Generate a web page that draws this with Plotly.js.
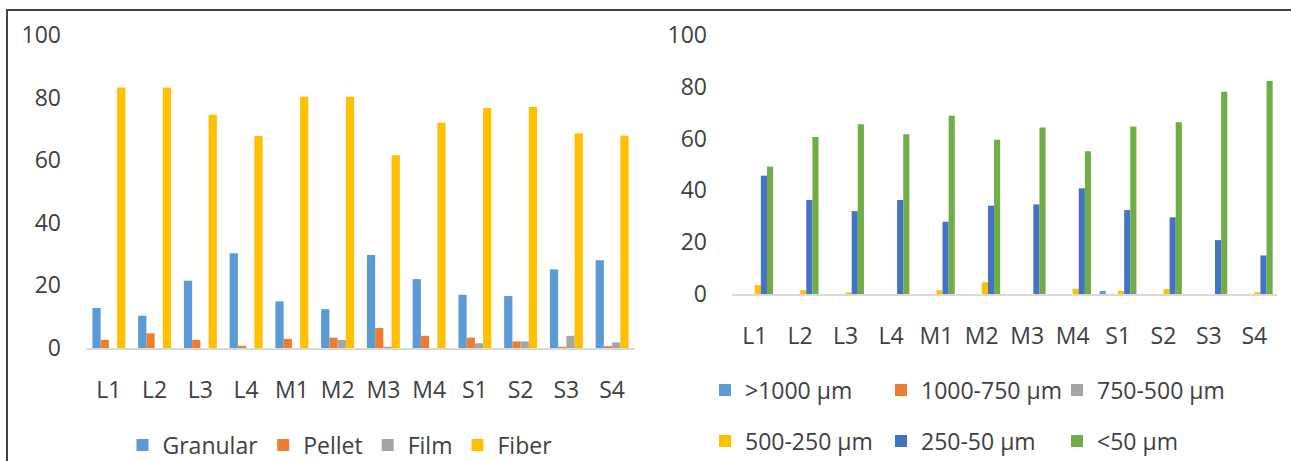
<!DOCTYPE html>
<html>
<head>
<meta charset="utf-8">
<script src="https://cdn.plot.ly/plotly-3.0.1.min.js"></script>
<style>
  html, body { margin: 0; padding: 0; background: #ffffff; }
  #wrap { position: relative; width: 1291px; height: 461px; overflow: hidden; }
  #chart { position: absolute; left: 0; top: 0; width: 1291px; height: 481px; }
  #frame { position: absolute; left: 6px; top: 9px; width: 1300px; height: 470px;
           border-left: 2px solid #444444; border-top: 2px solid #444444; pointer-events: none; }
</style>
</head>
<body>
<div id="wrap">
  <div id="chart"></div>
  <div id="frame"></div>
</div>
<script>
// Sampling sites
const sites = ['L1', 'L2', 'L3', 'L4', 'M1', 'M2', 'M3', 'M4', 'S1', 'S2', 'S3', 'S4'];

// Shape composition (%)
const shapeNames = ['Granular', 'Pellet', 'Film', 'Fiber'];
const granular = [12.8, 10.3, 21.5, 30.3, 14.9, 12.4, 29.7, 22.0, 17.0, 16.6, 25.1, 28.0];
const pellet   = [2.6, 4.7, 2.6, 0.7, 2.9, 3.3, 6.4, 3.9, 3.3, 2.1, 0.4, 0.6];
const film     = [0, 0, 0, 0, 0, 2.6, 0.4, 0, 1.5, 2.1, 3.9, 1.8];
const fiber    = [83.2, 83.2, 74.5, 67.7, 80.3, 80.3, 61.6, 72.0, 76.7, 77.0, 68.6, 67.9];

// Size composition (%)
const sizeNames = ['>1000 µm', '1000-750 µm', '750-500 µm', '500-250 µm', '250-50 µm', '<50 µm'];
const size1000 = [0, 0, 0, 0, 0, 0, 0, 0, 1.2, 0, 0, 0];
const size750  = [0, 0, 0, 0, 0, 0, 0, 0, 0, 0, 0, 0];
const size500  = [0, 0, 0, 0, 0, 0, 0, 0, 0, 0, 0, 0];
const size250  = [3.4, 1.5, 0.6, 0, 1.5, 4.5, 0, 2.0, 1.2, 1.9, 0, 0.7];
const size50   = [45.7, 36.3, 32.0, 36.3, 27.9, 34.1, 34.6, 40.8, 32.4, 29.6, 20.8, 14.9];
const sizeLt50 = [49.2, 60.6, 65.5, 61.7, 68.8, 59.6, 64.3, 55.1, 64.7, 66.3, 78.1, 82.2];

const shapeColors = ['#5B9BD5', '#ED7D31', '#A5A5A5', '#FFC000'];
const sizeColors  = ['#5B9BD5', '#ED7D31', '#A5A5A5', '#FFC000', '#4472C4', '#70AD47'];

// The figure runs a little below the visible area so the bottom legends never push the margins
const W = 1291, H = 481;
const fy = px => (H - px) / H;   // pixel row measured from the top -> paper fraction
const fx = px => px / W;

const textColor = '#404040';
const fontFam = '"Open Sans", "Noto Sans", sans-serif';
const fs = 23;

const traces = [];

// Left panel: four bars per site, each 0.18 of the category slot
const shapeSeries = [granular, pellet, film, fiber];
const bw = 0.18;
shapeSeries.forEach((vals, i) => {
  traces.push({
    type: 'bar', x: sites, y: vals, name: shapeNames[i],
    xaxis: 'x', yaxis: 'y', legend: 'legend',
    width: bw, offset: -2 * bw + i * bw,
    marker: { color: shapeColors[i], line: { width: 0 } },
    hoverinfo: 'x+y+name'
  });
});

// Right panel: six bars per site, legend split into two rows
const sizeSeries = [size1000, size750, size500, size250, size50, sizeLt50];
sizeSeries.forEach((vals, i) => {
  traces.push({
    type: 'bar', x: sites, y: vals, name: sizeNames[i],
    xaxis: 'x2', yaxis: 'y2', legend: i < 3 ? 'legend2' : 'legend3',
    marker: { color: sizeColors[i], line: { width: 0 } },
    hoverinfo: 'x+y+name'
  });
});

const xCommon = {
  type: 'category', showgrid: false, zeroline: false,
  showline: true, linecolor: '#D9D9D9', linewidth: 1.5,
  ticks: '', ticklabelstandoff: 21,
  tickfont: { size: fs, color: textColor, family: fontFam },
  range: [-0.5, 11.5], fixedrange: true
};
const yCommon = {
  range: [0, 100], dtick: 20, tick0: 0, showgrid: false, zeroline: false,
  showline: false, ticks: '', ticklabelstandoff: 24,
  tickfont: { size: fs, color: textColor, family: fontFam }, fixedrange: true
};

const legendCommon = {
  orientation: 'h', bgcolor: 'rgba(0,0,0,0)', borderwidth: 0,
  font: { size: fs, color: textColor, family: fontFam },
  itemwidth: 30, yanchor: 'middle', itemclick: false, itemdoubleclick: false
};

const layout = {
  width: W, height: H,
  margin: { l: 0, r: 0, t: 0, b: 0, pad: 0 },
  paper_bgcolor: '#ffffff', plot_bgcolor: '#ffffff',
  font: { family: fontFam, color: textColor, size: fs },
  barmode: 'group', bargap: 0.19, bargroupgap: 0,
  showlegend: true,
  xaxis: Object.assign({}, xCommon, { domain: [fx(86), fx(635)], anchor: 'y' }),
  yaxis: Object.assign({}, yCommon, { domain: [fy(348), fy(35)], anchor: 'x' }),
  xaxis2: Object.assign({}, xCommon, { domain: [fx(732), fx(1277)], anchor: 'y2' }),
  yaxis2: Object.assign({}, yCommon, { domain: [fy(294), fy(35)], anchor: 'x2' }),
  legend: Object.assign({}, legendCommon, { x: fx(340), xanchor: 'center', y: fy(445) }),
  legend2: Object.assign({}, legendCommon, {
    x: fx(705), xanchor: 'left', y: fy(390),
    entrywidth: 131, entrywidthmode: 'pixels'
  }),
  legend3: Object.assign({}, legendCommon, {
    x: fx(705), xanchor: 'left', y: fy(441),
    entrywidth: 131, entrywidthmode: 'pixels'
  })
};

Plotly.newPlot('chart', traces, layout, { displayModeBar: false, staticPlot: true });
</script>
</body>
</html>
